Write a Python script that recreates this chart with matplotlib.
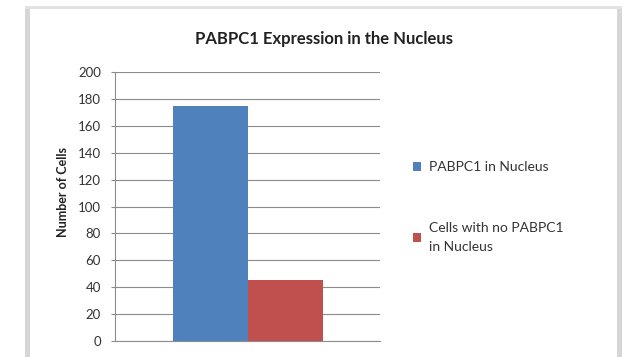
import numpy as np
import matplotlib
matplotlib.use("Agg")
import matplotlib.pyplot as plt
from matplotlib.patches import Rectangle

# counts of scored cells
series_labels = ["PABPC1 in Nucleus", "Cells with no PABPC1\nin Nucleus"]
cell_counts = [175, 45]
bar_colors = ["#4F81BD", "#C0504D"]
y_ticks = [0, 20, 40, 60, 80, 100, 120, 140, 160, 180, 200]

plt.rcParams.update({
    'font.family': ['Lato', 'DejaVu Sans'],
    'font.size': 9,
})

fig = plt.figure(figsize=(6.31, 3.57), dpi=100)
fig.patch.set_facecolor('white')

# chart frame (grey border on left/right/top like an office chart object)
fig.patches.append(Rectangle((25/631, 0), 5/631, 1 - 6/357, transform=fig.transFigure,
                             facecolor='#d6d6d6', edgecolor='none', zorder=0))
fig.patches.append(Rectangle((617/631, 0), 5/631, 1 - 6/357, transform=fig.transFigure,
                             facecolor='#d6d6d6', edgecolor='none', zorder=0))
fig.patches.append(Rectangle((25/631, 1 - 9/357), 597/631, 3/357, transform=fig.transFigure,
                             facecolor='#e2e2e2', edgecolor='none', zorder=0))

ax = fig.add_axes([115/631, 1 - 341/357, 265/631, 269/357])

width = 75 / 265
x = np.arange(1)
for i, (val, lab, col) in enumerate(zip(cell_counts, series_labels, bar_colors)):
    ax.bar(x + (i - 0.5) * width, [val], width, color=col, label=lab, zorder=3)

ax.set_xlim(-0.5, 0.5)
ax.set_ylim(0, 200)
ax.set_yticks(y_ticks)
ax.set_xticks([])
ax.yaxis.grid(True, color='#8c8c8c', linewidth=0.8, zorder=0)
ax.tick_params(axis='y', length=3, color='#8c8c8c', labelcolor='#333333', labelsize=9.5, pad=7)
for s in ['top', 'right']:
    ax.spines[s].set_visible(False)
ax.spines['left'].set_color('#8c8c8c')
ax.spines['bottom'].set_color('#8c8c8c')
ax.set_axisbelow(True)

fig.text(63/631, 1 - 192/357, "Number of Cells", rotation=90, ha='center', va='center',
         fontsize=9, fontweight='bold', color='#222222')
fig.text(324/631, 1 - 39/357, "PABPC1 Expression in the Nucleus", ha='center', va='center',
         fontsize=12, fontweight='bold', color='#222222')

leg = fig.legend(loc='upper left', bbox_to_anchor=(413/631, 1 - 161/357), frameon=False,
                 borderpad=0, borderaxespad=0,
                 handlelength=0.6, handleheight=0.6, handletextpad=0.55, labelspacing=3.5,
                 fontsize=10, labelcolor='#333333')
for t in leg.get_texts():
    t.set_linespacing(1.7)

plt.savefig("out.png", dpi=100)
